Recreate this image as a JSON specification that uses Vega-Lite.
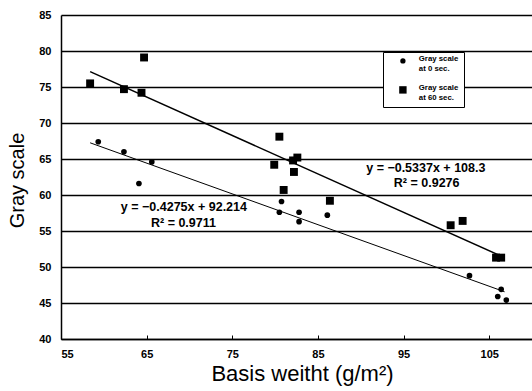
{
  "$schema": "https://vega.github.io/schema/vega-lite/v6.json",
  "autosize": {"type": "none"},
  "padding": {"left": 61, "top": 15, "right": 0, "bottom": 52},
  "width": 471,
  "height": 324,
  "background": "white",
  "config": {
    "view": {"stroke": null},
    "font": "Liberation Sans"
  },
  "datasets": {
    "pts": [
      {"bw": 58.4, "gs": 75.5, "series": "Gray scale at 60 sec."},
      {"bw": 62.35, "gs": 74.7, "series": "Gray scale at 60 sec."},
      {"bw": 64.4, "gs": 74.2, "series": "Gray scale at 60 sec."},
      {"bw": 64.7, "gs": 79.1, "series": "Gray scale at 60 sec."},
      {"bw": 80.5, "gs": 68.1, "series": "Gray scale at 60 sec."},
      {"bw": 79.9, "gs": 64.2, "series": "Gray scale at 60 sec."},
      {"bw": 82.1, "gs": 64.8, "series": "Gray scale at 60 sec."},
      {"bw": 82.6, "gs": 65.2, "series": "Gray scale at 60 sec."},
      {"bw": 82.2, "gs": 63.2, "series": "Gray scale at 60 sec."},
      {"bw": 81.0, "gs": 60.7, "series": "Gray scale at 60 sec."},
      {"bw": 86.4, "gs": 59.2, "series": "Gray scale at 60 sec."},
      {"bw": 100.5, "gs": 55.8, "series": "Gray scale at 60 sec."},
      {"bw": 101.9, "gs": 56.4, "series": "Gray scale at 60 sec."},
      {"bw": 105.8, "gs": 51.3, "series": "Gray scale at 60 sec."},
      {"bw": 106.4, "gs": 51.3, "series": "Gray scale at 60 sec."},
      {"bw": 59.35, "gs": 67.4, "series": "Gray scale at 0 sec."},
      {"bw": 62.35, "gs": 66.0, "series": "Gray scale at 0 sec."},
      {"bw": 65.6, "gs": 64.6, "series": "Gray scale at 0 sec."},
      {"bw": 64.1, "gs": 61.6, "series": "Gray scale at 0 sec."},
      {"bw": 80.75, "gs": 59.1, "series": "Gray scale at 0 sec."},
      {"bw": 80.5, "gs": 57.6, "series": "Gray scale at 0 sec."},
      {"bw": 82.8, "gs": 57.6, "series": "Gray scale at 0 sec."},
      {"bw": 82.8, "gs": 56.3, "series": "Gray scale at 0 sec."},
      {"bw": 86.1, "gs": 57.2, "series": "Gray scale at 0 sec."},
      {"bw": 102.7, "gs": 48.8, "series": "Gray scale at 0 sec."},
      {"bw": 106.4, "gs": 46.9, "series": "Gray scale at 0 sec."},
      {"bw": 106.0, "gs": 45.9, "series": "Gray scale at 0 sec."},
      {"bw": 107.0, "gs": 45.4, "series": "Gray scale at 0 sec."}
    ],
    "fits": [
      {"bw": 58.4, "gs": 77.13, "fit": "60", "w": 1.5},
      {"bw": 106.8, "gs": 51.3, "fit": "60", "w": 1.5},
      {"bw": 58.4, "gs": 67.25, "fit": "0", "w": 1},
      {"bw": 106.8, "gs": 46.56, "fit": "0", "w": 1}
    ],
    "notes": [
      {"bw": 97.6, "gs": 63.75, "label": "y = −0.5337x + 108.3"},
      {"bw": 97.7, "gs": 61.67, "label": "R² = 0.9276"},
      {"bw": 69.35, "gs": 58.38, "label": "y = −0.4275x + 92.214"},
      {"bw": 69.3, "gs": 56.07, "label": "R² = 0.9711"}
    ]
  },
  "encoding": {
    "x": {
      "field": "bw", "type": "quantitative",
      "scale": {"domain": [55, 110], "nice": false, "zero": false},
      "axis": {
        "title": "Basis weitht (g/m²)",
        "values": [55, 65, 75, 85, 95, 105],
        "grid": false,
        "domainColor": "black", "domainWidth": 1.5,
        "tickColor": "black", "tickSize": -4, "tickWidth": 1,
        "labelPadding": 13,
        "labelFontSize": 11, "labelFontWeight": "bold", "labelColor": "black",
        "labelFont": "Liberation Sans",
        "titleFontSize": 22, "titleFontWeight": "normal", "titleColor": "black",
        "titleFont": "Liberation Sans",
        "titleBaseline": "alphabetic", "titleX": 241, "titleY": 41
      }
    },
    "y": {
      "field": "gs", "type": "quantitative",
      "scale": {"domain": [40, 85], "nice": false, "zero": false},
      "axis": {
        "title": "Gray scale",
        "values": [40, 45, 50, 55, 60, 65, 70, 75, 80, 85],
        "grid": true, "gridColor": "black", "gridWidth": 1.5, "gridOpacity": 1,
        "domainColor": "black", "domainWidth": 1.5,
        "ticks": false,
        "labelPadding": 10,
        "labelFontSize": 11, "labelFontWeight": "bold", "labelColor": "black",
        "labelFont": "Liberation Sans",
        "titleFontSize": 20, "titleFontWeight": "normal", "titleColor": "black",
        "titleFont": "Liberation Sans",
        "titleX": -34, "titleY": 165
      }
    }
  },
  "layer": [
    {
      "data": {"name": "fits"},
      "mark": {"type": "line", "color": "black"},
      "encoding": {
        "detail": {"field": "fit"},
        "strokeWidth": {"field": "w", "type": "quantitative", "scale": null}
      }
    },
    {
      "data": {"name": "pts"},
      "mark": {"type": "point", "filled": true, "color": "black", "opacity": 1, "size": 32},
      "encoding": {
        "shape": {
          "field": "series", "type": "nominal",
          "scale": {"domain": ["Gray scale at 0 sec.", "Gray scale at 60 sec."], "range": ["circle", "M-1.4,-1.4H1.4V1.4H-1.4Z"]},
          "legend": {
            "title": null,
            "orient": "none", "legendX": 322, "legendY": 37,
            "fillColor": "white", "strokeColor": "black",
            "padding": 5,
            "symbolFillColor": "black", "symbolStrokeColor": "black", "symbolSize": 28, "symbolOpacity": 1,
            "symbolOffset": 11,
            "labelFont": "Liberation Sans", "labelFontSize": 7.8, "labelFontWeight": "bold", "labelColor": "black",
            "labelBaseline": "alphabetic",
            "labelExpr": "datum.value == 'Gray scale at 0 sec.' ? ['Gray scale', 'at 0 sec.'] : ['Gray scale', 'at 60 sec.']",
            "labelOffset": 12,
            "rowPadding": 10,
            "offset": 0
          }
        }
      }
    },
    {
      "data": {"name": "notes"},
      "mark": {"type": "text", "font": "Liberation Sans", "fontSize": 12.5, "fontWeight": "bold", "color": "black", "baseline": "middle", "align": "center"},
      "encoding": {
        "text": {"field": "label"}
      }
    }
  ]
}
